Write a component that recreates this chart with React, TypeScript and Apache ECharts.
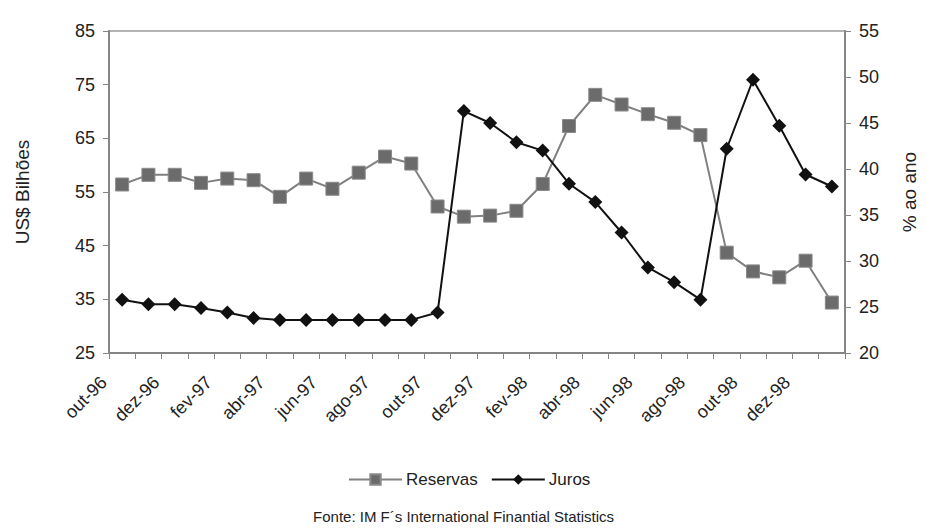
import React, { useEffect, useRef } from "react";
import * as echarts from "echarts";

const categories = [
  "out-96", "nov-96", "dez-96", "jan-97", "fev-97", "mar-97", "abr-97", "mai-97",
  "jun-97", "jul-97", "ago-97", "set-97", "out-97", "nov-97", "dez-97", "jan-98",
  "fev-98", "mar-98", "abr-98", "mai-98", "jun-98", "jul-98", "ago-98", "set-98",
  "out-98", "nov-98", "dez-98", "jan-99",
];

const reservas = [
  56.4, 58.2, 58.2, 56.7, 57.5, 57.2, 54.1, 57.5, 55.6, 58.6, 61.6, 60.3, 52.3, 50.4,
  50.6, 51.5, 56.5, 67.3, 73.1, 71.3, 69.5, 67.9, 65.6, 43.7, 40.2, 39.1, 42.2, 34.4,
];

const juros = [
  25.8, 25.3, 25.3, 24.9, 24.4, 23.8, 23.6, 23.6, 23.6, 23.6, 23.6, 23.6, 24.4, 46.3,
  45.0, 42.9, 42.0, 38.4, 36.4, 33.1, 29.3, 27.7, 25.8, 42.2, 49.7, 44.7, 39.4, 38.1,
];

const FONT = "'Liberation Sans', Arial, sans-serif";
const AXIS_COLOR = "#858585";

export default function App() {
  const ref = useRef<HTMLDivElement>(null);

  useEffect(() => {
    document.body.style.margin = "0";
    if (!ref.current) return;
    const chart = echarts.init(ref.current, null, { renderer: "svg" });
    chart.setOption({
      animation: false,
      backgroundColor: "#ffffff",
      textStyle: { fontFamily: FONT },
      title: {
        text: "Fonte: IM F´s International Finantial Statistics",
        left: "center",
        top: 508,
        padding: [1, 5, 1, 5],
        textStyle: { fontFamily: FONT, fontSize: 15, fontWeight: "normal", color: "#222" },
      },
      legend: {
        left: 343,
        top: 466,
        itemWidth: 53,
        itemHeight: 13,
        itemGap: 13,
        textStyle: { fontFamily: FONT, fontSize: 17, color: "#222", padding: [0, 0, 0, -1] },
        data: ["Reservas", "Juros"],
      },
      grid: {
        left: 109,
        right: 71,
        top: 31,
        bottom: 176,
        show: true,
        borderColor: "#9a9a9a",
        borderWidth: 1.5,
      },
      xAxis: {
        type: "category",
        data: categories,
        boundaryGap: true,
        axisLine: { lineStyle: { color: AXIS_COLOR, width: 2 } },
        axisTick: { show: true, interval: 0, length: 6, lineStyle: { color: AXIS_COLOR, width: 1 } },
        axisLabel: {
          interval: 1,
          rotate: 45,
          margin: 8,
          fontSize: 18,
          color: "#222",
          fontFamily: FONT,
          padding: [0, 26, 0, 0],
        },
      },
      yAxis: [
        {
          type: "value",
          min: 25,
          max: 85,
          interval: 10,
          name: "US$ Bilhões",
          nameLocation: "middle",
          nameRotate: 90,
          nameGap: 77,
          nameTextStyle: { fontSize: 19, color: "#222", fontFamily: FONT },
          splitLine: { show: false },
          axisLine: { show: true, lineStyle: { color: AXIS_COLOR, width: 2 } },
          axisTick: { show: true, length: 6, lineStyle: { color: AXIS_COLOR } },
          axisLabel: { fontSize: 18, color: "#222", margin: 14, fontFamily: FONT },
        },
        {
          type: "value",
          min: 20,
          max: 55,
          interval: 5,
          name: "% ao ano",
          nameLocation: "middle",
          nameRotate: 90,
          nameGap: 55,
          nameTextStyle: { fontSize: 19, color: "#222", fontFamily: FONT },
          splitLine: { show: false },
          axisLine: { show: true, lineStyle: { color: AXIS_COLOR, width: 2 } },
          axisTick: { show: true, length: 6, lineStyle: { color: AXIS_COLOR } },
          axisLabel: { fontSize: 18, color: "#222", margin: 14, fontFamily: FONT },
        },
      ],
      series: [
        {
          name: "Reservas",
          type: "line",
          yAxisIndex: 0,
          data: reservas,
          symbol: "rect",
          symbolSize: 13,
          showAllSymbol: true,
          lineStyle: { color: "#808080", width: 2 },
          itemStyle: { color: "#6b6b6b", borderColor: "#8a8a8a", borderWidth: 1 },
        },
        {
          name: "Juros",
          type: "line",
          yAxisIndex: 1,
          data: juros,
          symbol: "diamond",
          symbolSize: 14,
          showAllSymbol: true,
          lineStyle: { color: "#111111", width: 2 },
          itemStyle: { color: "#111111" },
        },
      ],
    });
    return () => chart.dispose();
  }, []);

  return <div ref={ref} style={{ width: 927, height: 529 }} />;
}
